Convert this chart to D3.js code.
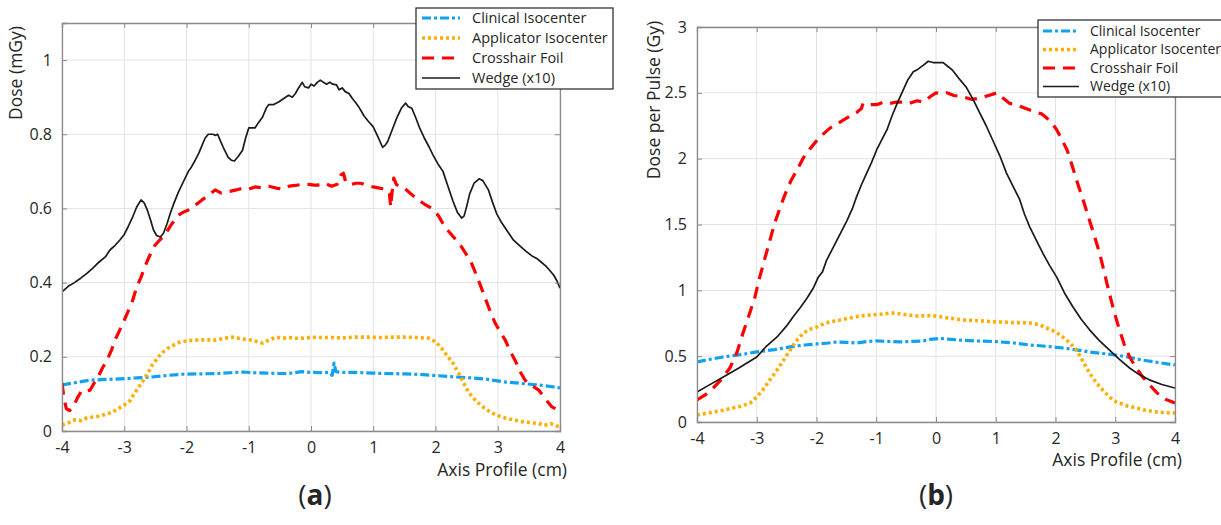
<!DOCTYPE html>
<html><head><meta charset="utf-8">
<script src="https://cdn.jsdelivr.net/npm/d3@7/dist/d3.min.js"></script>
<style>
body{margin:0;background:#fff;}
svg{display:block;}
text{font-family:"Open Sans","DejaVu Sans",sans-serif;fill:#262626;}
</style></head>
<body><svg id="c" width="1221" height="525"></svg>
<script>
// ---------- data ----------
const xTicks = [-4,-3,-2,-1,0,1,2,3,4];
const yTicksA = [0,0.2,0.4,0.6,0.8,1];
const yTicksB = [0,0.5,1,1.5,2,2.5,3];
const yTickLabelsA = ["0","0.2","0.4","0.6","0.8","1"];
const yTickLabelsB = ["0","0.5","1","1.5","2","2.5","3"];
const seriesNames = ["Clinical Isocenter","Applicator Isocenter","Crosshair Foil","Wedge (x10)"];

const blueA = [[-4,0.124],[-3.8,0.13],[-3.55,0.137],[-3.3,0.139],[-3.0,0.141],[-2.8,0.143],[-2.6,0.145],[-2.3,0.15],[-2.07,0.153],[-1.8,0.154],[-1.5,0.155],[-1.3,0.157],[-1.1,0.159],[-0.9,0.157],[-0.7,0.156],[-0.5,0.155],[-0.36,0.155],[-0.15,0.16],[0.0,0.158],[0.2,0.157],[0.3,0.158],[0.34,0.15],[0.37,0.183],[0.4,0.16],[0.5,0.158],[0.7,0.158],[1.0,0.156],[1.2,0.155],[1.5,0.154],[1.8,0.152],[2.05,0.149],[2.3,0.146],[2.58,0.143],[2.8,0.14],[3.12,0.132],[3.4,0.128],[3.66,0.124],[3.85,0.12],[4.0,0.116]];
const orangeA = [[-4,0.016],[-3.9,0.022],[-3.8,0.03],[-3.7,0.028],[-3.6,0.035],[-3.5,0.038],[-3.4,0.04],[-3.3,0.045],[-3.2,0.05],[-3.1,0.06],[-3.0,0.07],[-2.9,0.083],[-2.85,0.098],[-2.78,0.115],[-2.7,0.135],[-2.62,0.156],[-2.55,0.178],[-2.45,0.2],[-2.37,0.214],[-2.29,0.224],[-2.2,0.232],[-2.1,0.24],[-2.0,0.243],[-1.85,0.245],[-1.7,0.246],[-1.54,0.245],[-1.4,0.25],[-1.26,0.253],[-1.1,0.248],[-0.95,0.245],[-0.85,0.24],[-0.78,0.237],[-0.68,0.245],[-0.56,0.253],[-0.45,0.25],[-0.35,0.252],[-0.25,0.25],[-0.1,0.25],[0.0,0.253],[0.15,0.252],[0.3,0.252],[0.5,0.251],[0.7,0.253],[0.9,0.253],[1.1,0.252],[1.3,0.253],[1.5,0.253],[1.7,0.252],[1.9,0.25],[2.0,0.24],[2.05,0.232],[2.12,0.218],[2.2,0.2],[2.28,0.183],[2.37,0.156],[2.45,0.13],[2.53,0.105],[2.6,0.09],[2.69,0.075],[2.8,0.06],[2.91,0.048],[3.03,0.04],[3.12,0.035],[3.25,0.03],[3.4,0.025],[3.55,0.022],[3.66,0.02],[3.75,0.015],[3.85,0.02],[4.0,0.01]];
const redA = [[-4,0.13],[-3.97,0.09],[-3.93,0.06],[-3.88,0.055],[-3.82,0.065],[-3.75,0.09],[-3.68,0.11],[-3.6,0.108],[-3.55,0.11],[-3.48,0.13],[-3.42,0.146],[-3.35,0.17],[-3.28,0.19],[-3.2,0.22],[-3.15,0.245],[-3.05,0.28],[-2.95,0.318],[-2.87,0.35],[-2.8,0.388],[-2.73,0.415],[-2.67,0.442],[-2.6,0.47],[-2.51,0.5],[-2.43,0.515],[-2.35,0.528],[-2.25,0.555],[-2.13,0.582],[-2.05,0.59],[-1.97,0.596],[-1.85,0.61],[-1.75,0.623],[-1.65,0.635],[-1.54,0.65],[-1.45,0.642],[-1.33,0.645],[-1.2,0.65],[-1.1,0.655],[-1.0,0.652],[-0.9,0.658],[-0.8,0.656],[-0.68,0.66],[-0.56,0.655],[-0.46,0.652],[-0.35,0.66],[-0.25,0.662],[-0.15,0.665],[-0.04,0.665],[0.05,0.663],[0.11,0.663],[0.22,0.668],[0.33,0.66],[0.42,0.665],[0.48,0.69],[0.52,0.695],[0.56,0.67],[0.65,0.665],[0.72,0.668],[0.8,0.668],[0.88,0.663],[1.0,0.658],[1.1,0.655],[1.2,0.652],[1.26,0.64],[1.28,0.604],[1.3,0.64],[1.33,0.682],[1.37,0.665],[1.44,0.658],[1.5,0.655],[1.6,0.64],[1.72,0.623],[1.82,0.612],[1.94,0.6],[2.05,0.58],[2.15,0.55],[2.28,0.525],[2.42,0.496],[2.5,0.475],[2.58,0.452],[2.67,0.415],[2.75,0.38],[2.85,0.335],[2.96,0.29],[3.05,0.265],[3.12,0.245],[3.2,0.215],[3.28,0.19],[3.36,0.16],[3.44,0.137],[3.55,0.122],[3.66,0.11],[3.75,0.09],[3.87,0.065],[3.93,0.06],[4.0,0.057]];
const wedgeA = [[-4,0.375],[-3.9,0.39],[-3.8,0.40],[-3.7,0.412],[-3.6,0.425],[-3.5,0.44],[-3.42,0.453],[-3.3,0.47],[-3.23,0.488],[-3.15,0.50],[-3.07,0.515],[-3.0,0.53],[-2.94,0.55],[-2.87,0.575],[-2.8,0.604],[-2.73,0.623],[-2.68,0.615],[-2.63,0.596],[-2.58,0.57],[-2.53,0.542],[-2.48,0.527],[-2.42,0.523],[-2.37,0.533],[-2.31,0.56],[-2.26,0.587],[-2.2,0.615],[-2.13,0.644],[-2.05,0.672],[-1.97,0.70],[-1.92,0.712],[-1.86,0.73],[-1.8,0.75],[-1.75,0.77],[-1.7,0.79],[-1.65,0.80],[-1.58,0.80],[-1.53,0.797],[-1.5,0.80],[-1.45,0.78],[-1.41,0.765],[-1.33,0.738],[-1.28,0.73],[-1.23,0.728],[-1.17,0.74],[-1.1,0.757],[-1.05,0.79],[-1.0,0.817],[-0.9,0.817],[-0.85,0.83],[-0.78,0.846],[-0.72,0.87],[-0.68,0.88],[-0.6,0.88],[-0.52,0.887],[-0.45,0.895],[-0.36,0.905],[-0.3,0.9],[-0.25,0.91],[-0.2,0.925],[-0.14,0.94],[-0.1,0.928],[-0.04,0.925],[0.0,0.935],[0.05,0.93],[0.1,0.94],[0.15,0.946],[0.2,0.94],[0.25,0.935],[0.3,0.94],[0.35,0.935],[0.41,0.933],[0.45,0.92],[0.5,0.925],[0.55,0.915],[0.61,0.91],[0.67,0.895],[0.72,0.885],[0.77,0.873],[0.85,0.85],[0.92,0.835],[1.0,0.82],[1.07,0.795],[1.15,0.765],[1.19,0.77],[1.23,0.78],[1.3,0.81],[1.38,0.845],[1.45,0.87],[1.52,0.884],[1.56,0.875],[1.62,0.87],[1.68,0.846],[1.75,0.815],[1.82,0.79],[1.9,0.765],[1.96,0.744],[2.04,0.72],[2.12,0.70],[2.2,0.66],[2.28,0.62],[2.35,0.59],[2.42,0.574],[2.46,0.58],[2.5,0.605],[2.55,0.64],[2.62,0.668],[2.7,0.68],[2.76,0.675],[2.85,0.65],[2.92,0.615],[2.98,0.587],[3.05,0.565],[3.15,0.54],[3.25,0.515],[3.35,0.5],[3.45,0.485],[3.55,0.472],[3.62,0.466],[3.7,0.455],[3.77,0.445],[3.83,0.434],[3.9,0.42],[3.95,0.405],[4.0,0.385]];

const blueB = [[-4,0.456],[-3.8,0.475],[-3.56,0.494],[-3.3,0.51],[-3.0,0.532],[-2.7,0.55],[-2.44,0.57],[-2.2,0.585],[-1.99,0.593],[-1.8,0.6],[-1.66,0.608],[-1.5,0.605],[-1.33,0.6],[-1.15,0.612],[-0.99,0.616],[-0.8,0.612],[-0.6,0.608],[-0.4,0.612],[-0.21,0.616],[-0.1,0.628],[0.07,0.635],[0.25,0.628],[0.45,0.62],[0.7,0.615],[1.02,0.61],[1.3,0.6],[1.57,0.585],[1.85,0.575],[2.12,0.562],[2.35,0.548],[2.57,0.532],[2.8,0.52],[3.0,0.509],[3.25,0.49],[3.46,0.47],[3.75,0.45],[4.0,0.433]];
const orangeB = [[-4,0.053],[-3.8,0.07],[-3.56,0.09],[-3.3,0.115],[-3.11,0.144],[-3.0,0.19],[-2.9,0.243],[-2.78,0.32],[-2.66,0.395],[-2.55,0.47],[-2.44,0.547],[-2.33,0.62],[-2.22,0.676],[-2.1,0.705],[-1.99,0.722],[-1.88,0.745],[-1.78,0.76],[-1.6,0.775],[-1.44,0.79],[-1.27,0.805],[-1.1,0.813],[-0.9,0.82],[-0.72,0.828],[-0.5,0.815],[-0.32,0.805],[-0.15,0.808],[0.0,0.805],[0.2,0.79],[0.45,0.775],[0.7,0.77],[1.02,0.76],[1.3,0.755],[1.57,0.752],[1.72,0.74],[1.85,0.714],[2.0,0.685],[2.12,0.646],[2.24,0.6],[2.35,0.547],[2.46,0.46],[2.57,0.372],[2.68,0.3],[2.79,0.243],[2.9,0.19],[3.02,0.152],[3.18,0.125],[3.35,0.106],[3.5,0.09],[3.7,0.076],[3.85,0.07],[4.0,0.068]];
const redB = [[-4,0.167],[-3.85,0.21],[-3.73,0.258],[-3.6,0.32],[-3.45,0.41],[-3.33,0.53],[-3.23,0.676],[-3.13,0.81],[-3.03,0.95],[-2.95,1.1],[-2.86,1.25],[-2.78,1.38],[-2.7,1.51],[-2.6,1.64],[-2.5,1.76],[-2.42,1.84],[-2.33,1.91],[-2.25,1.98],[-2.19,2.03],[-2.1,2.08],[-1.99,2.14],[-1.88,2.19],[-1.78,2.23],[-1.67,2.26],[-1.56,2.29],[-1.45,2.32],[-1.33,2.35],[-1.25,2.38],[-1.22,2.42],[-1.1,2.41],[-0.99,2.41],[-0.88,2.43],[-0.77,2.42],[-0.66,2.43],[-0.55,2.43],[-0.44,2.42],[-0.32,2.44],[-0.21,2.43],[-0.1,2.47],[0.0,2.5],[0.1,2.49],[0.18,2.5],[0.3,2.48],[0.45,2.47],[0.6,2.45],[0.73,2.46],[0.88,2.48],[1.02,2.5],[1.12,2.46],[1.23,2.42],[1.34,2.41],[1.45,2.39],[1.57,2.37],[1.69,2.35],[1.77,2.34],[1.85,2.31],[1.94,2.27],[2.02,2.22],[2.1,2.15],[2.19,2.07],[2.27,1.96],[2.35,1.84],[2.46,1.69],[2.57,1.53],[2.66,1.4],[2.74,1.28],[2.82,1.13],[2.9,0.98],[2.98,0.84],[3.07,0.70],[3.15,0.59],[3.24,0.494],[3.35,0.41],[3.46,0.342],[3.58,0.28],[3.7,0.22],[3.85,0.17],[4.0,0.144]];
const wedgeB = [[-4,0.228],[-3.8,0.28],[-3.56,0.342],[-3.3,0.41],[-3.0,0.494],[-2.85,0.57],[-2.66,0.646],[-2.5,0.73],[-2.39,0.80],[-2.27,0.87],[-2.16,0.94],[-2.05,1.02],[-1.97,1.1],[-1.9,1.14],[-1.83,1.23],[-1.75,1.3],[-1.66,1.38],[-1.58,1.45],[-1.49,1.53],[-1.4,1.62],[-1.33,1.71],[-1.25,1.8],[-1.16,1.89],[-1.08,1.97],[-0.99,2.07],[-0.9,2.15],[-0.82,2.22],[-0.74,2.32],[-0.65,2.42],[-0.55,2.52],[-0.47,2.6],[-0.38,2.66],[-0.3,2.68],[-0.21,2.71],[-0.13,2.74],[-0.05,2.73],[0.07,2.73],[0.12,2.73],[0.2,2.7],[0.28,2.67],[0.4,2.6],[0.51,2.54],[0.62,2.45],[0.73,2.35],[0.84,2.25],[0.95,2.14],[1.07,2.02],[1.18,1.89],[1.29,1.79],[1.4,1.69],[1.48,1.58],[1.57,1.48],[1.68,1.38],[1.79,1.28],[1.9,1.19],[2.02,1.1],[2.15,0.98],[2.29,0.875],[2.43,0.78],[2.57,0.70],[2.73,0.62],[2.9,0.547],[3.07,0.475],[3.24,0.41],[3.4,0.36],[3.57,0.32],[3.78,0.285],[4.0,0.258]];

// ---------- styles ----------
const styles = [
  {color:"#10A2F0", width:3.2, dash:"9,3,3,3"},
  {color:"#FFAE00", width:3.6, dash:"3,3"},
  {color:"#FF0000", width:3.2, dash:"12,8"},
  {color:"#1a1a1a", width:1.7, dash:null}
];

const svg = d3.select("#c");

function panel(cfg){
  const x = d3.scaleLinear().domain([-4,4]).range([cfg.left, cfg.right]);
  const y = d3.scaleLinear().domain(cfg.yDomain).range([cfg.bottom, cfg.top]);
  const g = svg.append("g");
  g.selectAll(".vg").data(xTicks).join("line")
    .attr("x1",d=>x(d)).attr("x2",d=>x(d)).attr("y1",cfg.top).attr("y2",cfg.bottom)
    .attr("stroke","#e3e3e3").attr("stroke-width",1);
  g.selectAll(".hg").data(cfg.yTicks).join("line")
    .attr("y1",d=>y(d)).attr("y2",d=>y(d)).attr("x1",cfg.left).attr("x2",cfg.right)
    .attr("stroke","#e3e3e3").attr("stroke-width",1);
  const cid = "clip"+cfg.id;
  svg.append("clipPath").attr("id",cid).append("rect")
    .attr("x",cfg.left).attr("y",cfg.top).attr("width",cfg.right-cfg.left).attr("height",cfg.bottom-cfg.top);
  const line = d3.line().x(d=>x(d[0])).y(d=>y(d[1]));
  const lg = g.append("g").attr("clip-path",`url(#${cid})`);
  cfg.series.forEach((s,i)=>{
    const st = styles[i];
    lg.append("path").datum(s).attr("d",line).attr("fill","none")
      .attr("stroke",st.color).attr("stroke-width",st.width)
      .attr("stroke-dasharray",st.dash).attr("stroke-linejoin","round");
  });
  const ax = d3.axisBottom(x).tickValues(xTicks).tickSize(-5).tickPadding(11).tickFormat(d=>String(d));
  const axG = g.append("g").attr("transform",`translate(0,${cfg.bottom})`).call(ax);
  const axT = g.append("g").attr("transform",`translate(0,${cfg.top})`).call(d3.axisTop(x).tickValues(xTicks).tickSize(-5).tickFormat(""));
  const ay = d3.axisLeft(y).tickValues(cfg.yTicks).tickSize(-5).tickPadding(10).tickFormat((d,i)=>cfg.yLabels[i]);
  const ayG = g.append("g").attr("transform",`translate(${cfg.left},0)`).call(ay);
  const ayR = g.append("g").attr("transform",`translate(${cfg.right},0)`).call(d3.axisRight(y).tickValues(cfg.yTicks).tickSize(-5).tickFormat(""));
  [axG,axT,ayG,ayR].forEach(a=>{
    a.select(".domain").attr("stroke","#8a8a8a").attr("stroke-width",1.3);
    a.selectAll(".tick line").attr("stroke","#8a8a8a");
    a.selectAll(".tick text").attr("font-size",16).attr("fill","#262626")
      .attr("font-family",'"Open Sans","DejaVu Sans",sans-serif');
  });
  g.append("text").attr("x",cfg.right+7).attr("y",cfg.xTitleY).attr("text-anchor","end")
    .attr("font-size",17.5).text("Axis Profile (cm)");
  g.append("text").attr("transform",`translate(${cfg.yTitleX},${cfg.yTitleY}) rotate(-90)`)
    .attr("text-anchor","middle").attr("font-size",17.5).text(cfg.yTitle);
  const pl = g.append("text").attr("x",cfg.labelX).attr("y",505).attr("text-anchor","middle")
    .attr("font-family",'"Liberation Serif","DejaVu Serif",serif').attr("font-size",28);
  pl.append("tspan").text("(");
  pl.append("tspan").attr("font-weight","bold").text(cfg.label);
  pl.append("tspan").text(")");
  const L = cfg.legend;
  const lgd = g.append("g");
  lgd.append("rect").attr("x",L.x).attr("y",L.y).attr("width",L.w).attr("height",L.h)
    .attr("fill","#fff").attr("stroke","#222").attr("stroke-width",1.2);
  seriesNames.forEach((n,i)=>{
    const yy = L.y + L.first + i*L.step;
    const st = styles[i];
    lgd.append("line").attr("x1",L.x+L.lx1).attr("x2",L.x+L.lx2).attr("y1",yy).attr("y2",yy)
      .attr("stroke",st.color).attr("stroke-width",st.width).attr("stroke-dasharray",st.dash);
    lgd.append("text").attr("x",L.x+L.tx).attr("y",yy).attr("dy","0.35em")
      .attr("font-size",L.fs).text(n);
  });
}

panel({id:"a", left:62, right:560, top:23, bottom:431, yDomain:[0,1.1],
  yTicks:yTicksA, yLabels:yTickLabelsA, series:[blueA,orangeA,redA,wedgeA],
  xTitleY:476, yTitleX:22, yTitleY:73, yTitle:"Dose (mGy)", label:"a", labelX:315,
  legend:{x:416,y:8,w:197,h:81,first:10,step:20,lx1:6,lx2:44,tx:56,fs:14.5}});
panel({id:"b", left:697, right:1175, top:27, bottom:422, yDomain:[0,3],
  yTicks:yTicksB, yLabels:yTickLabelsB, series:[blueB,orangeB,redB,wedgeB],
  xTitleY:466, yTitleX:660, yTitleY:100, yTitle:"Dose per Pulse (Gy)", label:"b", labelX:936,
  legend:{x:1038,y:20,w:185,h:77,first:11,step:18.5,lx1:5,lx2:41,tx:52,fs:14}});
</script></body></html>
